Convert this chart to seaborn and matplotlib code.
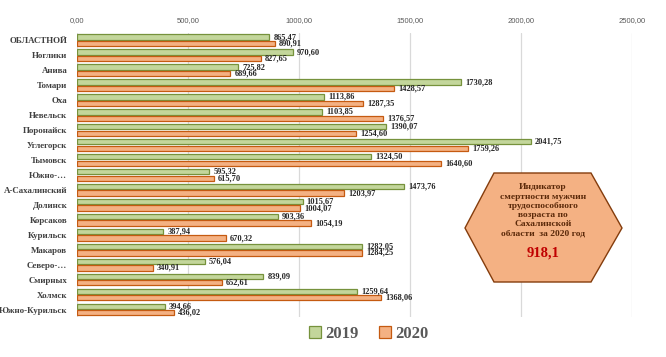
import matplotlib
matplotlib.use("Agg")
import matplotlib.pyplot as plt
import seaborn as sns
import pandas as pd
from matplotlib.patches import Polygon, Patch

categories = ["ОБЛАСТНОЙ", "Ноглики", "Анива", "Томари", "Оха", "Невельск", "Поронайск",
              "Углегорск", "Тымовск", "Южно-…", "А-Сахалинский", "Долинск", "Корсаков",
              "Курильск", "Макаров", "Северо-…", "Смирных", "Холмск", "Южно-Курильск"]
values_2019 = [865.47, 970.60, 725.82, 1730.28, 1113.86, 1103.85, 1390.07, 2041.75, 1324.50,
               595.32, 1473.76, 1015.67, 903.36, 387.94, 1282.05, 576.04, 839.09, 1259.64, 394.66]
values_2020 = [890.91, 827.65, 689.66, 1428.57, 1287.35, 1376.57, 1254.60, 1759.26, 1640.60,
               615.70, 1203.97, 1004.07, 1054.19, 670.32, 1284.25, 340.91, 652.61, 1368.06, 436.02]
years = ["2019", "2020"]
xticks = [0, 500, 1000, 1500, 2000, 2500]
indicator_text = "Индикатор\nсмертности мужчин\nтрудоспособного\nвозраста по\nСахалинской\nобласти  за 2020 год"
indicator_value = "918,1"

df = pd.DataFrame({
    "region": categories * 2,
    "value": values_2019 + values_2020,
    "year": [years[0]] * len(categories) + [years[1]] * len(categories),
})

sns.set_style("white")
serif = ["Liberation Serif", "DejaVu Serif"]

fig = plt.figure(figsize=(6.66, 3.57), dpi=100)
ax = fig.add_axes([0.1156, 0.112, 0.834, 0.796])

fills = {"2019": "#c3d69b", "2020": "#f4b183"}
edges = {"2019": "#76923c", "2020": "#c55a11"}

sns.barplot(data=df, y="region", x="value", hue="year", orient="h",
            palette=fills, width=0.86, ax=ax, legend=False, saturation=1)

for cont, yr in zip(ax.containers, years):
    for p in cont:
        p.set_edgecolor(edges[yr])
        p.set_linewidth(0.9)
        h = p.get_height()
        p.set_height(h * 0.82)
        p.set_y(p.get_y() + h * 0.09)
    labels = [f"{v:.2f}".replace(".", ",") for v in cont.datavalues]
    ax.bar_label(cont, labels=labels, padding=3, fontsize=6.0, fontweight="bold",
                 family=serif, color="#262626")

ax.set_xlim(0, 2500)
ax.set_ylim(len(categories) - 0.5, -0.5)
ax.set_xticks(xticks)
ax.set_xticklabels([f"{t:.2f}".replace(".", ",") for t in xticks], fontsize=5.5,
                   color="#595959", family=["Liberation Sans Narrow", "Liberation Sans"])
ax.xaxis.tick_top()
ax.tick_params(axis="x", length=0, pad=6)
ax.tick_params(axis="y", length=0, pad=7)
for lab in ax.get_yticklabels():
    lab.set_family(serif)
    lab.set_fontweight("bold")
    lab.set_fontsize(6.4)
    lab.set_color("#404040")
ax.set_xlabel("")
ax.set_ylabel("")
ax.grid(axis="x", color="#d9d9d9", linewidth=0.9)
ax.set_axisbelow(True)
for s in ax.spines.values():
    s.set_visible(False)

# hexagon indicator (figure coords in pixels -> fraction)
W, H = 666, 357
pts_px = [(494, 173), (591, 173), (622, 228), (591, 282), (494, 282), (465, 228)]
pts = [(x / W, 1 - y / H) for x, y in pts_px]
hexagon = Polygon(pts, closed=True, transform=fig.transFigure, facecolor="#f4b183",
                  edgecolor="#843c0c", linewidth=1.0, zorder=5)
fig.patches.append(hexagon)
fig.text(543 / W, 1 - 210.5 / H, indicator_text, ha="center", va="center", fontsize=6.8,
         fontweight="bold", family=serif, color="#5c2a0a", linespacing=1.22, zorder=6)
fig.text(543 / W, 1 - 253 / H, indicator_value, ha="center", va="center", fontsize=10.5,
         fontweight="bold", family=serif, color="#c00000", zorder=6)

handles = [Patch(facecolor=fills[y], edgecolor=edges[y], linewidth=0.9) for y in years]
leg = fig.legend(handles, years, loc="center", bbox_to_anchor=(369 / W, 1 - 334 / H), ncol=2,
                 frameon=False, prop={"family": serif, "weight": "bold", "size": 12},
                 handlelength=0.7, handleheight=0.7, handletextpad=0.3, columnspacing=1.2)
for t in leg.get_texts():
    t.set_color("#595959")

fig.savefig("out.png", dpi=100)
